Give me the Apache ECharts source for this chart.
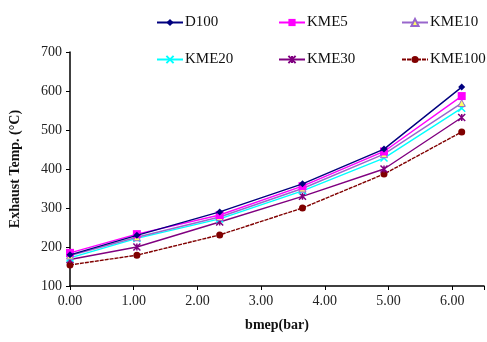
<!DOCTYPE html>
<html><head><meta charset="utf-8">
<script src="https://cdn.jsdelivr.net/npm/echarts@6/dist/echarts.min.js"></script>
<style>html,body{margin:0;padding:0;background:#fff}#c{width:487px;height:342px}</style>
</head><body><div id="c"></div>
<script>
const bmep = [0, 1.05, 2.35, 3.65, 4.93, 6.15];
const D100 = [180, 230, 290, 362, 451, 610];
const KME5 = [185, 233, 282, 356, 445, 587];
const KME10 = [178, 225, 277, 350, 438, 569];
const KME20 = [172, 222, 272, 344, 428, 556];
const KME30 = [168, 200, 264, 330, 400, 532];
const KME100 = [154, 179, 231, 300, 387, 495];
const names = ['D100','KME5','KME10','KME20','KME30','KME100'];
const values = [D100, KME5, KME10, KME20, KME30, KME100];
const colors = ['#00007f','#ff00ff','#9966cc','#00ffff','#800080','#800000'];
const xPath = 'path://M0,0L10,10M10,0L0,10';
const starPath = 'path://M0,0L10,10M10,0L0,10M5,0L5,10';
const symbols = ['diamond','rect','triangle',xPath,starPath,'circle'];
const symSizes = [7,8,7,7,7,7];
const series = names.map((n,i)=>({
  name:n, type:'line', data: bmep.map((x,j)=>[x, values[i][j]]),
  symbol: symbols[i], symbolSize: symSizes[i],
  lineStyle:{color:colors[i], width:1.4, type: i===5?[4,1]:'solid'},
  itemStyle:{color: i===2 ? '#ffff66' : colors[i], borderColor: colors[i], borderWidth: (i===3||i===4)?1.5:(i===2?1:0)},
  z: 10-i, animation:false
}));
const legPos = [[151,10],[273,10],[396,10],[151,47],[273,47],[396,47]];
const legends = names.map((n,i)=>({
  data:[n], left:legPos[i][0], top:legPos[i][1], itemWidth:26, itemHeight:9, itemGap:0,
  textStyle:{fontFamily:'Liberation Serif', fontSize:15, color:'#111', padding:[0,0,0,-3]}
}));
const chart = echarts.init(document.getElementById('c'), null, {renderer:'canvas'});
chart.setOption({
  animation:false,
  color: colors,
  legend: legends,
  grid:{left:70, right:2, top:52, bottom:56},
  xAxis:{type:'value', min:0, max:6.5, interval:1,
    axisLine:{lineStyle:{color:'#000', width:1.5}},
    axisTick:{show:true, length:4, lineStyle:{color:'#000'}},
    splitLine:{show:false},
    axisLabel:{fontFamily:'Liberation Serif', fontSize:14, color:'#222', margin:8,
      formatter:(v)=> v>6.01 ? '' : v.toFixed(2)},
    name:'bmep(bar)', nameLocation:'middle', nameGap:32,
    nameTextStyle:{fontFamily:'Liberation Serif', fontSize:14, fontWeight:'bold', color:'#111'}
  },
  yAxis:{type:'value', min:100, max:700, interval:100,
    axisLine:{show:true, lineStyle:{color:'#000', width:1.5}},
    axisTick:{show:true, length:4, lineStyle:{color:'#000'}},
    splitLine:{show:false},
    axisLabel:{fontFamily:'Liberation Serif', fontSize:14, color:'#222', margin:8},
    name:'Exhaust Temp. (°C)', nameLocation:'middle', nameGap:48,
    nameTextStyle:{fontFamily:'Liberation Serif', fontSize:14, fontWeight:'bold', color:'#111'}
  },
  series: series
});
</script></body></html>
